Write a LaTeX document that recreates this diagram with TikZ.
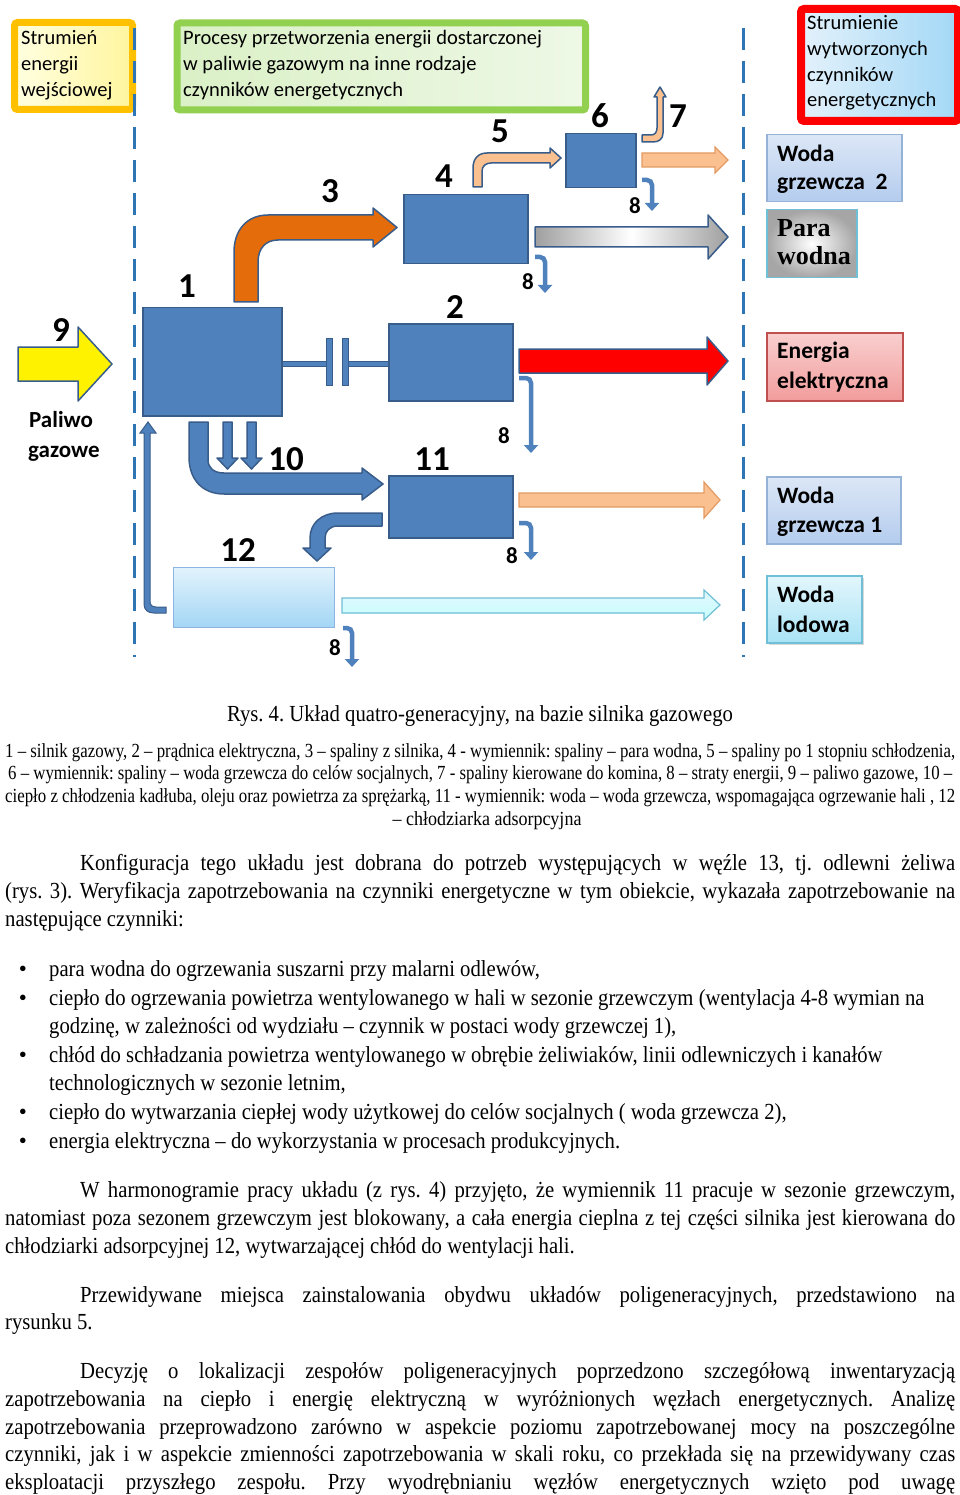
\documentclass[tikz,border=0pt]{standalone}
\usepackage{fontspec}
\setmainfont{Liberation Serif}
\newfontfamily\calib{Carlito}
\usetikzlibrary{arrows.meta}
\definecolor{blkc}{HTML}{4F81BD}
\definecolor{blkd}{HTML}{385D8A}
\definecolor{dashc}{HTML}{2E75B6}
\definecolor{orng}{HTML}{E46C0A}
\definecolor{lorng}{HTML}{FAC090}
\definecolor{lorngd}{HTML}{E39A62}
\definecolor{hdro}{HTML}{FFC000}
\definecolor{hdrg}{HTML}{92D050}
\definecolor{b12t}{HTML}{E2F3FC}
\definecolor{b12b}{HTML}{A3D6F5}
\definecolor{b12d}{HTML}{8DB4E2}
\definecolor{wgt}{HTML}{DCE7F6}
\definecolor{wgb}{HTML}{B4CCEE}
\definecolor{wgd}{HTML}{95B3D7}
\definecolor{wlt}{HTML}{E2F6FC}
\definecolor{wlb}{HTML}{A9E3F5}
\definecolor{wld}{HTML}{6FBFD6}
\definecolor{eet}{HTML}{F9CFCF}
\definecolor{eeb}{HTML}{F29C9C}
\definecolor{eed}{HTML}{C0504D}
\definecolor{rbl}{HTML}{E3F1FB}
\definecolor{rbr}{HTML}{A3D8F6}
\definecolor{ybl}{HTML}{FFFFE0}
\definecolor{ybr}{HTML}{FFF59E}
\definecolor{gbl}{HTML}{DAF0C6}
\definecolor{gbr}{HTML}{EEF8E6}
\frenchspacing
\newsavebox{\jlbox}
\newcommand{\jl}[2]{\sbox{\jlbox}{\scalebox{0.9}[1]{#2}}%
  \ifdim\wd\jlbox>#1pt\relax\resizebox{#1pt}{\height}{\usebox{\jlbox}}%
  \else\scalebox{0.9}[1]{\makebox[\dimexpr #1pt*10/9\relax][s]{#2}}\fi}
\newcommand{\nx}[1]{\scalebox{0.9}[1]{#1}}
\tikzset{
  blk/.style={draw=blkd, fill=blkc, line width=1.5pt, inner sep=0pt, anchor=north west},
  fat/.style={draw=blkd, line width=1.5pt, line join=round},
  loss/.style={draw=blkc, line width=4.5pt, rounded corners=5pt, -{Triangle[width=14pt,length=8pt]}},
  outbox/.style={line width=1.5pt, inner sep=0pt, anchor=north west},
  hdr/.style={anchor=base west, inner sep=0pt, font=\calib\fontsize{20.5}{24}\selectfont},
  outt/.style={anchor=base west, inner sep=0pt, font=\calib\bfseries\fontsize{23.5}{26}\selectfont},
  num/.style={anchor=base, inner sep=0pt, font=\calib\bfseries\fontsize{35}{35}\selectfont},
  eight/.style={anchor=base, inner sep=0pt, font=\calib\bfseries\fontsize{23}{23}\selectfont},
  body/.style={anchor=mid west, inner sep=0pt, font=\fontsize{23}{28}\selectfont},
  leg/.style={anchor=mid west, inner sep=0pt, font=\fontsize{20}{23}\selectfont},
  dline/.style={draw=dashc, line width=3pt, dash pattern=on 22pt off 11pt}
}
\begin{document}
\begin{tikzpicture}[x=1pt,y=-1pt]
\useasboundingbox (0,0) rectangle (960,1495);
\fill[white] (0,0) rectangle (960,1495);

% header boxes
\node[outbox, draw=hdro, line width=7pt, rounded corners=3pt, left color=ybl, right color=ybr, minimum width=118pt, minimum height=87pt] (hin) at (11,19) {};
\node[hdr] (hin1) at (21,45) {Strumień};
\node[hdr] (hin2) at (21,71) {energii};
\node[hdr] (hin3) at (21,97) {wejściowej};

\node[outbox, draw=hdrg, line width=7pt, rounded corners=3pt, left color=gbl, right color=gbr, minimum width=408.5pt, minimum height=87pt] (hpr) at (173.5,19.5) {};
\node[hdr] (hpr1) at (183,45) {Procesy przetworzenia energii dostarczonej};
\node[hdr] (hpr2) at (183,71) {w paliwie gazowym na inne rodzaje};
\node[hdr] (hpr3) at (183,97) {czynników energetycznych};

\node[outbox, draw=red, line width=8pt, rounded corners=3pt, left color=rbl, right color=rbr, minimum width=157pt, minimum height=112pt] (hout) at (797,5) {};
\node[hdr, font=\calib\fontsize{20.5}{24}\selectfont] (hout1) at (807,30) {Strumienie};
\node[hdr, font=\calib\fontsize{20.5}{24}\selectfont] (hout2) at (807,56) {wytworzonych};
\node[hdr, font=\calib\fontsize{20.5}{24}\selectfont] (hout3) at (807,82) {czynników};
\node[hdr, font=\calib\fontsize{20.5}{24}\selectfont] (hout4) at (807,107) {energetycznych};

% dashed separators
\coordinate (d1a) at (134,28); \coordinate (d1b) at (134,657);
\coordinate (d2a) at (743,28); \coordinate (d2b) at (743,657);
\draw[dline] (d1a) -- (d1b);
\draw[dline] (d2a) -- (d2b);

% blocks
\node[blk, minimum width=139pt, minimum height=108pt] (b1) at (142,307) {};
\node[blk, minimum width=124pt, minimum height=77pt] (b2) at (388,323) {};
\node[blk, minimum width=124pt, minimum height=69pt] (b4) at (403,194) {};
\node[blk, minimum width=70pt, minimum height=54pt] (b6) at (565,133) {};
\node[blk, minimum width=124pt, minimum height=62pt] (b11) at (388,475) {};
\node[blk, draw=b12d, line width=1pt, top color=b12t, bottom color=b12b, minimum width=161pt, minimum height=60pt] (b12) at (173,567) {};

% coupling shaft 1-2
\draw[draw=blkd, fill=blkc, line width=1pt] (282,361) rectangle (326,366);
\draw[draw=blkd, fill=blkc, line width=1pt] (326,338) rectangle (332,385);
\draw[draw=blkd, fill=blkc, line width=1pt] (342,338) rectangle (348,385);
\draw[draw=blkd, fill=blkc, line width=1pt] (348,361) rectangle (388,366);

% fuel arrow 9
\draw[fat, fill=yellow] (18,347) -- (78,347) -- (78,327) -- (112,364) -- (78,401) -- (78,381) -- (18,381) -- cycle;

% arrow 3
\draw[fat, fill=orng] (234,302) -- (234,252) .. controls (234,230) and (247,215) .. (268,215) -- (373,215) -- (373,208) -- (397,227.5) -- (373,247) -- (373,240) -- (278,240) .. controls (266,240) and (258,248) .. (258,262) -- (258,302) -- cycle;

% arrow 5
\draw[fat, fill=lorng] (473,187) -- (473,168) .. controls (473,159) and (478,153) .. (487,153) -- (550,153) -- (550,148) -- (561,158) -- (550,168) -- (550,163) -- (491,163) .. controls (486,163) and (482,166) .. (482,171) -- (482,187) -- cycle;

% arrow 7
\draw[fat, fill=lorng] (642,135) -- (651,135) .. controls (655,135) and (657,132) .. (657,128) -- (657,97) -- (654,97) -- (660,87) -- (666,97) -- (663,97) -- (663,133) .. controls (663,139) and (659,142) .. (653,142) -- (642,142) -- cycle;

% woda grzewcza 2 arrow
\draw[draw=lorngd, line width=1.2pt, fill=lorng] (642,153) -- (715,153) -- (715,147) -- (728,160) -- (715,173) -- (715,167) -- (642,167) -- cycle;

% para wodna arrow
\shade[left color=gray!75, right color=gray!75, middle color=white] (535,227) -- (708,227) -- (708,215) -- (728,237) -- (708,259) -- (708,247) -- (535,247) -- cycle;
\draw[fat] (535,227) -- (708,227) -- (708,215) -- (728,237) -- (708,259) -- (708,247) -- (535,247) -- cycle;

% electricity arrow
\draw[fat, fill=red] (519,349) -- (707,349) -- (707,337) -- (728,361) -- (707,385) -- (707,373) -- (519,373) -- cycle;

% woda grzewcza 1 arrow
\draw[draw=lorngd, line width=1.2pt, fill=lorng] (519,493) -- (704,493) -- (704,482) -- (720,500) -- (704,518) -- (704,507) -- (519,507) -- cycle;

% woda lodowa arrow
\shade[top color=wlt, bottom color=cyan!22] (342,598) -- (704,598) -- (704,590) -- (720,605) -- (704,620) -- (704,613) -- (342,613) -- cycle;
\draw[draw=wld, line width=1.2pt] (342,598) -- (704,598) -- (704,590) -- (720,605) -- (704,620) -- (704,613) -- (342,613) -- cycle;

% arrow 10
\draw[fat, fill=blkc] (189,422) -- (189,457) .. controls (189,479) and (202,494) .. (224,494) -- (362,494) -- (362,500) -- (383,484) -- (362,468) -- (362,473) -- (224,473) .. controls (214,473) and (208,468) .. (208,460) -- (208,422) -- cycle;
\draw[fat, fill=blkc] (223,422) -- (223,458) -- (217,458) -- (227.5,469) -- (238,458) -- (232,458) -- (232,422) -- cycle;
\draw[fat, fill=blkc] (247,422) -- (247,458) -- (241,458) -- (251.5,469) -- (262,458) -- (256,458) -- (256,422) -- cycle;

% arrow 11 -> 12
\draw[fat, fill=blkc] (382,513) -- (338,513) .. controls (322,513) and (310,523) .. (310,538) -- (310,548) -- (303,548) -- (317,561) -- (331,548) -- (325,548) -- (325,538) .. controls (325,531) and (330,526) .. (338,526) -- (382,526) -- cycle;

% return arrow 12 -> 1
\draw[draw=blkd, line width=1pt, fill=blkc] (166,607) -- (156,607) .. controls (152,607) and (150,605) .. (150,601) -- (150,433) -- (156,433) -- (148,422) -- (140,433) -- (144,433) -- (144,604) .. controls (144,610) and (148,613) .. (154,613) -- (166,613) -- cycle;

% loss arrows 8
\draw[loss] (642,180) -- (652,180) -- (652,211);
\draw[loss] (535,257) -- (545,257) -- (545,293);
\draw[loss] (519,378) -- (531,378) -- (531,453);
\draw[loss] (519,523) -- (531,523) -- (531,560);
\draw[loss] (343,628) -- (352,628) -- (352,667);

% labels
\node[num] (n1) at (187,298) {1};
\node[num] (n2) at (455,318) {2};
\node[num] (n3) at (330,203) {3};
\node[num] (n4) at (444,188) {4};
\node[num] (n5) at (500,143) {5};
\node[num] (n6) at (600,128) {6};
\node[num] (n7) at (678,128) {7};
\node[num] (n9) at (61,341) {9};
\node[num] (n10) at (286,470) {10};
\node[num] (n11) at (432,470) {11};
\node[num] (n12) at (238,561) {12};
\node[eight] (e1) at (528,290) {8};
\node[eight] (e2) at (635,214) {8};
\node[eight] (e3) at (504,443) {8};
\node[eight] (e4) at (512,563) {8};
\node[eight] (e5) at (335,655) {8};
\node[anchor=base west, inner sep=0pt, font=\calib\bfseries\fontsize{23}{26}\selectfont] (pal1) at (29,427) {Paliwo};
\node[anchor=base west, inner sep=0pt, font=\calib\bfseries\fontsize{23}{26}\selectfont] (pal2) at (28,457) {gazowe};

% output boxes
\node[outbox, draw=wgd, top color=wgt, bottom color=wgb, minimum width=135pt, minimum height=67pt] (owg2) at (766,134) {};
\node[outt] (owg2a) at (777,162) {Woda};
\node[outt] (owg2b) at (777,190) {grzewcza\ \ 2};
\node[outbox, draw=wld, inner color=white, outer color=gray!70, minimum width=90pt, minimum height=68pt] (opw) at (766,209) {};
\node[anchor=base west, inner sep=0pt, font=\bfseries\fontsize{26}{28}\selectfont] (opwa) at (777,237) {Para};
\node[anchor=base west, inner sep=0pt, font=\bfseries\fontsize{26}{28}\selectfont] (opwb) at (777,265) {wodna};
\node[outbox, draw=eed, top color=eet, bottom color=eeb, minimum width=136pt, minimum height=68pt] (oee) at (766,332) {};
\node[outt] (oeea) at (777,358) {Energia};
\node[outt] (oeeb) at (777,388) {elektryczna};
\node[outbox, draw=wgd, top color=wgt, bottom color=wgb, minimum width=134pt, minimum height=67pt] (owg1) at (766,476) {};
\node[outt] (owg1a) at (777,503) {Woda};
\node[outt] (owg1b) at (777,532) {grzewcza 1};
\fill[gray!30] (769,578) rectangle (864,645);
\node[outbox, draw=wld, top color=wlt, bottom color=wlb, minimum width=95pt, minimum height=67pt] (owl) at (766,575) {};
\node[outt] (owla) at (777,602) {Woda};
\node[outt] (owlb) at (777,632) {lodowa};

% caption and legend
\node[anchor=mid, inner sep=0pt, font=\fontsize{23}{28}\selectfont] (cap) at (480,719) {\nx{Rys. 4. Układ quatro-generacyjny, na bazie silnika gazowego}};
\node[leg] (lg1) at (5,755) {\jl{950}{1 – silnik gazowy, 2 – prądnica elektryczna, 3 – spaliny z silnika, 4 - wymiennik: spaliny – para wodna, 5 – spaliny po 1 stopniu schłodzenia,}};
\node[leg] (lg2) at (8,777) {\jl{944}{6 – wymiennik: spaliny – woda grzewcza do celów socjalnych, 7 - spaliny kierowane do komina, 8 – straty energii, 9 – paliwo gazowe, 10 –}};
\node[leg] (lg3) at (5,800) {\jl{950}{ciepło z chłodzenia kadłuba, oleju oraz powietrza za sprężarką, 11 - wymiennik: woda – woda grzewcza, wspomagająca ogrzewanie hali , 12}};
\node[leg, anchor=mid] (lg4) at (487,823) {\nx{– chłodziarka adsorpcyjna}};

% body text
\node[body] (p1a) at (80,868) {\jl{875}{Konfiguracja tego układu jest dobrana do potrzeb występujących w węźle 13, tj. odlewni żeliwa}};
\node[body] (p1b) at (5,896) {\jl{950}{(rys. 3). Weryfikacja zapotrzebowania na czynniki energetyczne w tym obiekcie, wykazała zapotrzebowanie na}};
\node[body] (p1c) at (5,924) {\nx{następujące czynniki:}};

\node[body, anchor=mid] (bu1) at (23,974) {•};
\node[body] (l1) at (49,974) {\nx{para wodna do ogrzewania suszarni przy malarni odlewów,}};
\node[body, anchor=mid] (bu2) at (23,1003) {•};
\node[body] (l2a) at (49,1003) {\nx{ciepło do ogrzewania powietrza wentylowanego w hali w sezonie grzewczym (wentylacja 4-8 wymian na}};
\node[body] (l2b) at (49,1031) {\nx{godzinę, w zależności od wydziału – czynnik w postaci wody grzewczej 1),}};
\node[body, anchor=mid] (bu3) at (23,1060) {•};
\node[body] (l3a) at (49,1060) {\nx{chłód do schładzania powietrza wentylowanego w obrębie żeliwiaków, linii odlewniczych i kanałów}};
\node[body] (l3b) at (49,1088) {\nx{technologicznych w sezonie letnim,}};
\node[body, anchor=mid] (bu4) at (23,1117) {•};
\node[body] (l4) at (49,1117) {\nx{ciepło do wytwarzania ciepłej wody użytkowej do celów socjalnych ( woda grzewcza 2),}};
\node[body, anchor=mid] (bu5) at (23,1146) {•};
\node[body] (l5) at (49,1146) {\nx{energia elektryczna – do wykorzystania w procesach produkcyjnych.}};

\node[body] (p2a) at (80,1195) {\jl{875}{W harmonogramie pracy układu (z rys. 4) przyjęto, że wymiennik 11 pracuje w sezonie grzewczym,}};
\node[body] (p2b) at (5,1223) {\jl{950}{natomiast poza sezonem grzewczym jest blokowany, a cała energia cieplna z tej części silnika jest kierowana do}};
\node[body] (p2c) at (5,1251) {\nx{chłodziarki adsorpcyjnej 12, wytwarzającej chłód do wentylacji hali.}};

\node[body] (p3a) at (80,1300) {\jl{875}{Przewidywane miejsca zainstalowania obydwu układów poligeneracyjnych, przedstawiono na}};
\node[body] (p3b) at (5,1327) {\nx{rysunku 5.}};

\node[body] (p4a) at (80,1376) {\jl{875}{Decyzję o lokalizacji zespołów poligeneracyjnych poprzedzono szczegółową inwentaryzacją}};
\node[body] (p4b) at (5,1404) {\jl{950}{zapotrzebowania na ciepło i energię elektryczną w wyróżnionych węzłach energetycznych. Analizę}};
\node[body] (p4c) at (5,1432) {\jl{950}{zapotrzebowania przeprowadzono zarówno w aspekcie poziomu zapotrzebowanej mocy na poszczególne}};
\node[body] (p4d) at (5,1459) {\jl{950}{czynniki, jak i w aspekcie zmienności zapotrzebowania w skali roku, co przekłada się na przewidywany czas}};
\node[body] (p4e) at (5,1487) {\jl{950}{eksploatacji przyszłego zespołu. Przy wyodrębnianiu węzłów energetycznych wzięto pod uwagę}};
\end{tikzpicture}
\end{document}
